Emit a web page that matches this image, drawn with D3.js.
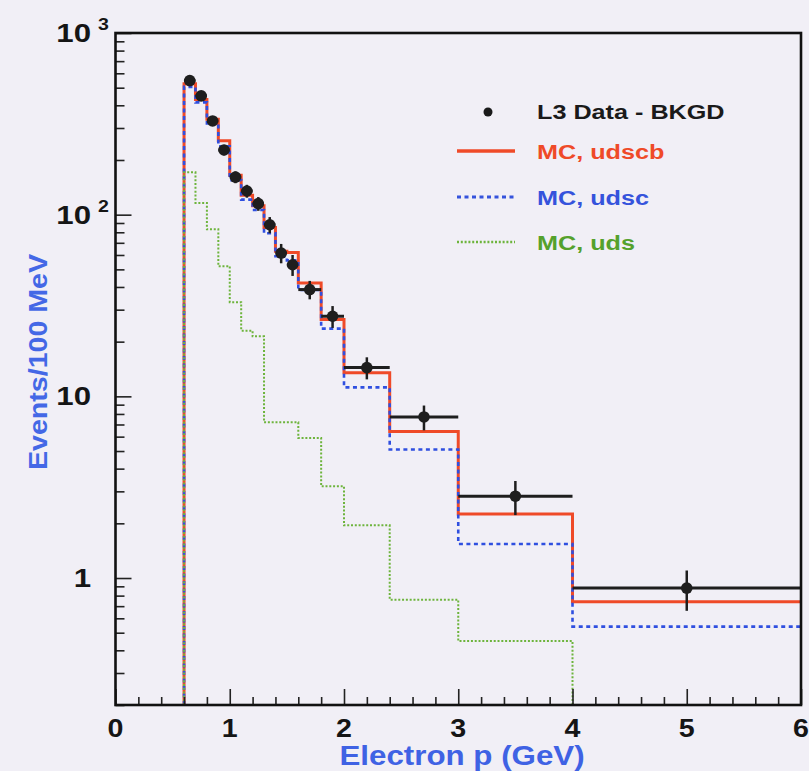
<!DOCTYPE html>
<html>
<head>
<meta charset="utf-8">
<script src="https://cdn.jsdelivr.net/npm/d3@7"></script>
<style>
  html, body { margin: 0; padding: 0; background: #f1eff6; }
  svg { display: block; }
  text { font-family: "Liberation Sans", Arial, Helvetica, sans-serif; font-weight: bold; }
</style>
</head>
<body>
<svg id="chart" width="809" height="771"></svg>
<script>
// Bin edges of the electron momentum histogram (GeV)
const binEdges = [0.6, 0.7, 0.8, 0.9, 1.0, 1.1, 1.2, 1.3, 1.4, 1.5, 1.6, 1.8, 2.0, 2.4, 3.0, 4.0, 6.0];

// L3 data after background subtraction, events / 100 MeV, with errors
const dataValues = [547, 451, 328, 227, 161, 135, 115, 88, 61.5, 53, 38.7, 27.6, 14.4, 7.7, 2.82, 0.88];
const dataErrors = [24, 21, 18, 15, 12, 11, 10, 9, 7.5, 7, 4.5, 3.8, 2.0, 1.2, 0.6, 0.22];

// Monte Carlo predictions for different quark-flavour content
const mcUdscb = [525, 430, 335, 255, 165, 128, 112, 85, 63, 62, 42, 26.5, 13.5, 6.4, 2.25, 0.74];
const mcUdsc  = [505, 415, 318, 238, 155, 121, 106, 79, 59, 56, 38.5, 23.6, 11.2, 5.1, 1.54, 0.54];
const mcUds   = [171, 116, 83, 52, 33, 23, 21.4, 7.2, 7.2, 7.2, 5.9, 3.2, 1.95, 0.76, 0.45, 0];

const xTicks = [0, 1, 2, 3, 4, 5, 6];
const yTicks = [
  { value: 1000, base: "10", exp: "3" },
  { value: 100,  base: "10", exp: "2" },
  { value: 10,   base: "10", exp: "" },
  { value: 1,    base: "1",  exp: "" }
];

const legendItems = [
  { label: "L3 Data - BKGD", color: "#1a1a1a", kind: "dot" },
  { label: "MC, udscb", color: "#ef4a28", kind: "solid" },
  { label: "MC, udsc",  color: "#3553dc", kind: "dash" },
  { label: "MC, uds",   color: "#55a12c", kind: "dot-line" }
];

const svg = d3.select("#chart");
const W = 809, H = 771;
const plot = { left: 115.5, right: 801, top: 33, bottom: 705 };

const x = d3.scaleLinear().domain([0, 6]).range([plot.left, plot.right]);
const y = d3.scaleLog().domain([0.2, 1000]).range([plot.bottom, plot.top]);

svg.append("rect").attr("width", W).attr("height", H).attr("fill", "#f1eff6");

// Text drawn with a slightly widened face (wide Helvetica-style lettering)
function wideText(parent, px, py, sx, opts) {
  const t = parent.append("text")
    .attr("transform", `translate(${px},${py})${opts.rotate ? ` rotate(${opts.rotate})` : ""} scale(${sx},1)`)
    .attr("font-size", opts.size)
    .attr("fill", opts.color)
    .attr("text-anchor", opts.anchor || "start")
    .text(opts.text);
  return t;
}

// Step outline for one histogram, starting from the bottom of the frame
function stepPath(vals) {
  const p = d3.path();
  p.moveTo(x(binEdges[0]), plot.bottom);
  for (let i = 0; i < vals.length; i++) {
    const v = vals[i];
    if (v <= 0) { p.lineTo(x(binEdges[i]), plot.bottom); break; }
    p.lineTo(x(binEdges[i]), y(v));
    p.lineTo(x(binEdges[i + 1]), y(v));
  }
  return p.toString();
}

const g = svg.append("g");

g.append("path").attr("d", stepPath(mcUdscb))
  .attr("fill", "none").attr("stroke", "#ef4a28").attr("stroke-width", 3);
g.append("path").attr("d", stepPath(mcUdsc))
  .attr("fill", "none").attr("stroke", "#2f4fe0").attr("stroke-width", 2.6)
  .attr("stroke-dasharray", "4,3.5");
g.append("path").attr("d", stepPath(mcUds))
  .attr("fill", "none").attr("stroke", "#6db43c").attr("stroke-width", 2)
  .attr("stroke-dasharray", "2,1.8");

// Data points with error bars
const pts = dataValues.map((v, i) => ({
  x0: binEdges[i], x1: binEdges[i + 1], xc: (binEdges[i] + binEdges[i + 1]) / 2,
  v, e: dataErrors[i]
}));
const dg = g.append("g");
dg.selectAll("line.h").data(pts).join("line").attr("class", "h")
  .attr("x1", d => x(d.x0)).attr("x2", d => x(d.x1))
  .attr("y1", d => y(d.v)).attr("y2", d => y(d.v))
  .attr("stroke", "#1e1e1e").attr("stroke-width", 3);
dg.selectAll("line.v").data(pts).join("line").attr("class", "v")
  .attr("x1", d => x(d.xc)).attr("x2", d => x(d.xc))
  .attr("y1", d => y(d.v + d.e)).attr("y2", d => y(Math.max(d.v - d.e, 0.21)))
  .attr("stroke", "#1e1e1e").attr("stroke-width", 2.5);
dg.selectAll("circle").data(pts).join("circle")
  .attr("cx", d => x(d.xc)).attr("cy", d => y(d.v)).attr("r", 5.8)
  .attr("fill", "#1e1e1e");

// Axes: ticks point into the frame
const axG = svg.append("g");
const xMajor = d3.axisBottom(x).tickValues(xTicks).tickSize(-16).tickFormat("");
const xMinor = d3.axisBottom(x)
  .tickValues(d3.range(0, 6.001, 0.2).filter(t => Math.abs(t - Math.round(t)) > 1e-6))
  .tickSize(-8).tickFormat("");
axG.append("g").attr("transform", `translate(0,${plot.bottom})`).call(xMajor);
axG.append("g").attr("transform", `translate(0,${plot.bottom})`).call(xMinor);

const yMinorVals = [];
[0.1, 1, 10, 100].forEach(dec => { for (let k = 2; k <= 9; k++) { const t = dec * k; if (t >= 0.2 && t < 1000) yMinorVals.push(t); } });
const yMajor = d3.axisLeft(y).tickValues(yTicks.map(d => d.value)).tickSize(-16).tickFormat("");
const yMinor = d3.axisLeft(y).tickValues(yMinorVals).tickSize(-9).tickFormat("");
axG.append("g").attr("transform", `translate(${plot.left},0)`).call(yMajor);
axG.append("g").attr("transform", `translate(${plot.left},0)`).call(yMinor);

axG.selectAll(".domain").remove();
axG.selectAll(".tick line").attr("stroke", "#222").attr("stroke-width", 1.6);

// Frame
svg.append("rect")
  .attr("x", plot.left).attr("y", plot.top)
  .attr("width", plot.right - plot.left).attr("height", plot.bottom - plot.top)
  .attr("fill", "none").attr("stroke", "#111").attr("stroke-width", 2.6);

// Tick labels
const xl = svg.append("g");
xTicks.forEach(t => wideText(xl, x(t), 737, 1.1, { size: 26, color: "#151515", anchor: "middle", text: String(t) }));

const yl = svg.append("g");
yTicks.forEach(t => {
  wideText(yl, 91, y(t.value) + 9, 1.2, { size: 26, color: "#151515", anchor: "end", text: t.base });
  if (t.exp) wideText(yl, 98, y(t.value) - 3, 1.15, { size: 17, color: "#151515", text: t.exp });
});

// Axis titles
wideText(svg, 462, 765, 1.16, { size: 27, color: "#3f62e4", anchor: "middle", text: "Electron p (GeV)" });
wideText(svg, 47, 362, 1.1, { size: 26, color: "#4468e6", anchor: "middle", rotate: -90, text: "Events/100 MeV" });

// Legend
const lg = svg.append("g");
const legY = [111, 151, 197, 242];
legendItems.forEach((it, i) => {
  const yy = legY[i];
  if (it.kind === "dot") {
    lg.append("circle").attr("cx", 488).attr("cy", yy + 1).attr("r", 4.5).attr("fill", it.color);
  } else {
    const ln = lg.append("line").attr("x1", 457).attr("x2", 515).attr("y1", yy).attr("y2", yy)
      .attr("stroke", it.kind === "dot-line" ? "#6db43c" : it.color);
    if (it.kind === "solid") ln.attr("stroke-width", 3.5);
    if (it.kind === "dash") ln.attr("stroke-width", 3).attr("stroke-dasharray", "4,3.5");
    if (it.kind === "dot-line") ln.attr("stroke-width", 2.5).attr("stroke-dasharray", "2,1.8");
  }
  wideText(lg, 537, yy + 8, 1.2, { size: 21, color: it.color, text: it.label });
});
</script>
</body>
</html>
